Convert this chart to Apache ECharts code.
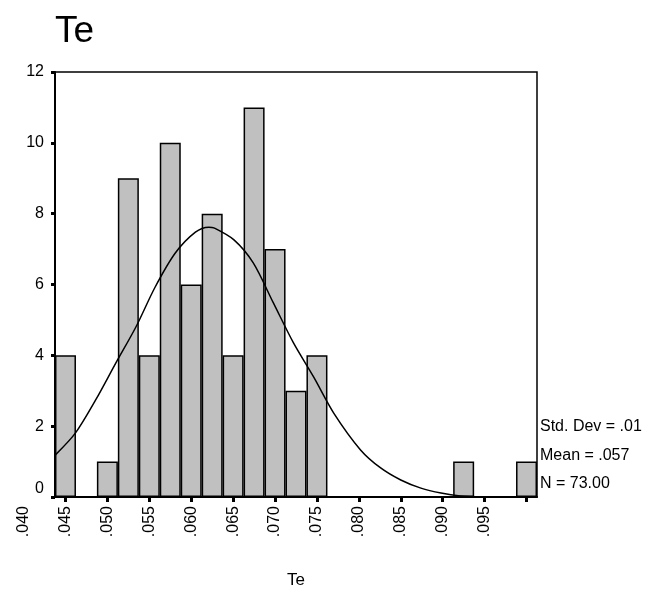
<!DOCTYPE html>
<html>
<head>
<meta charset="utf-8">
<script src="https://cdn.jsdelivr.net/npm/echarts@6/dist/echarts.min.js"></script>
<style>html,body{margin:0;padding:0;background:#fff}#c{width:655px;height:594px}</style>
</head>
<body>
<div id="c"></div>
<script>
// Histogram bins (centres) and counts
const binCenters = [0.045,0.0475,0.050,0.0525,0.055,0.0575,0.060,0.0625,0.065,0.0675,0.070,0.0725,0.075,0.0775,0.080,0.0825,0.085,0.0875,0.090,0.0925,0.095,0.0975,0.100];
const binCounts  = [4,0,1,9,4,10,6,8,4,11,7,3,4,0,0,0,0,0,0,1,0,0,1];
// Normal curve
const curveX = [0.0438,0.0462,0.0486,0.0510,0.0534,0.0557,0.0581,0.0605,0.0621,0.0627,0.0651,0.0674,0.0698,0.0722,0.0746,0.0770,0.0802,0.0826,0.0850,0.0874,0.0898,0.0921,0.0949];
const curveY = [1.19,1.81,2.74,3.78,4.80,5.93,6.89,7.48,7.62,7.60,7.26,6.61,5.48,4.35,3.39,2.37,1.33,0.82,0.48,0.25,0.11,0.03,0.0];
// Axis ticks
const xTickValues = [0.045,0.050,0.055,0.060,0.065,0.070,0.075,0.080,0.085,0.090,0.095,0.100];
const xLabelValues = [0.040,0.045,0.050,0.055,0.060,0.065,0.070,0.075,0.080,0.085,0.090,0.095];
const xLabelTexts = ['.040','.045','.050','.055','.060','.065','.070','.075','.080','.085','.090','.095'];
const statLabels = ['Std. Dev = .01','Mean = .057','N = 73.00'];
const chartTitle = 'Te';
const xAxisTitle = 'Te';

const FONT = 'Arial, "Liberation Sans", sans-serif';
const barData = [];
binCenters.forEach((c,i)=>{ if (binCounts[i] > 0) barData.push([c, binCounts[i]]); });
const lineData = curveX.map((x,i)=>[x, curveY[i]]);

const chart = echarts.init(document.getElementById('c'), null, {renderer:'canvas'});
const statY = [425, 454, 482];
chart.setOption({
  animation: false,
  backgroundColor: '#fff',
  title: { text: chartTitle, left: 50, top: 8, textStyle: { fontFamily: FONT, fontSize: 37, fontWeight: 'normal', color: '#000' } },
  grid: [
    { left: 55, top: 72, width: 482, height: 425, show: true, borderColor: '#000', borderWidth: 1.5, backgroundColor: 'transparent' },
    { left: 23.56, top: 72, width: 513.44, height: 425, show: false }
  ],
  xAxis: [
    { type: 'value', gridIndex: 0, min: 0.04375, max: 0.10125,
      splitLine: { show: false },
      axisLine: { show: true, lineStyle: { color: '#000', width: 2 } },
      axisTick: { show: true, customValues: xTickValues, length: 5, lineStyle: { color: '#000', width: 3 } },
      axisLabel: { show: false } },
    { type: 'value', gridIndex: 1, min: 0.040, max: 0.10125,
      splitLine: { show: false }, axisLine: { show: false }, axisTick: { show: false },
      axisLabel: { show: true, customValues: xLabelValues, rotate: 90, margin: 12,
        fontFamily: FONT, fontSize: 16, color: '#000',
        formatter: v => { const i = xLabelValues.findIndex(t => Math.abs(t - v) < 1e-9); return i >= 0 ? xLabelTexts[i] : ''; } },
      name: xAxisTitle, nameLocation: 'middle', nameGap: 78,
      nameTextStyle: { fontFamily: FONT, fontSize: 17, color: '#000', padding: [0,0,0,(296 - (23.56 + 513.44/2))*2] } }
  ],
  yAxis: [
    { type: 'value', gridIndex: 0, min: 0, max: 12, interval: 2,
      splitLine: { show: false },
      axisLine: { show: true, lineStyle: { color: '#000', width: 2 } },
      axisTick: { show: true, length: 4, lineStyle: { color: '#000', width: 3 } },
      axisLabel: { margin: 11, fontFamily: FONT, fontSize: 16, color: '#000',
        formatter: v => v === 0 ? '{z|0}' : String(v),
        rich: { z: { fontFamily: FONT, fontSize: 16, color: '#000', padding: [0,0,16,0] } } } },
    { type: 'value', gridIndex: 1, min: 0, max: 12, show: false }
  ],
  series: [
    { type: 'bar', xAxisIndex: 0, yAxisIndex: 0, data: barData, barWidth: 21,
      itemStyle: { color: '#c0c0c0', borderColor: '#000', borderWidth: 1.5 } },
    { type: 'line', xAxisIndex: 0, yAxisIndex: 0, data: lineData, smooth: 0.3, showSymbol: false,
      lineStyle: { color: '#000', width: 1.5 }, z: 5 }
  ],
  graphic: statLabels.map((t,i)=>({ type: 'text', left: 540, top: statY[i] - 6,
    style: { text: t, fontFamily: FONT, fontSize: 16, fill: '#000' } }))
});
</script>
</body>
</html>
